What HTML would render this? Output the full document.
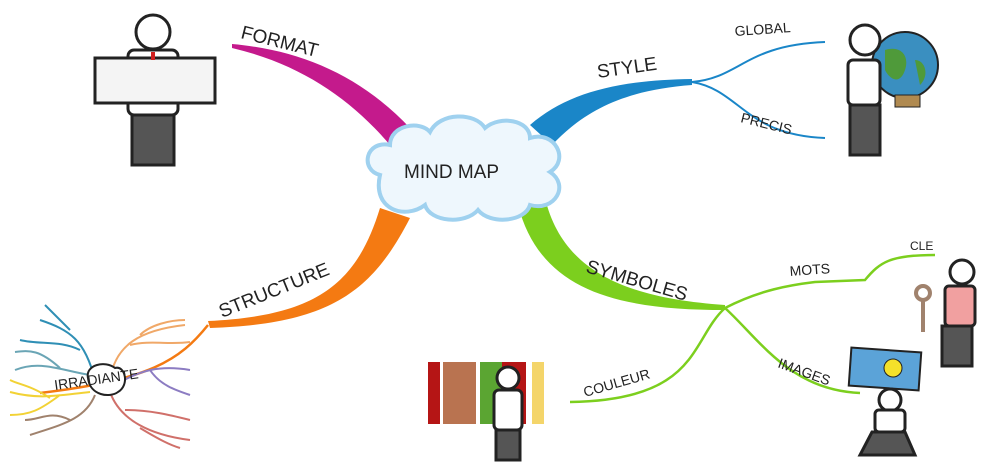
<!DOCTYPE html>
<html><head><meta charset="utf-8"><style>
html,body{margin:0;padding:0;background:#fff;width:986px;height:471px;overflow:hidden}
text{font-family:"Liberation Sans",sans-serif;fill:#222}
</style></head><body>
<svg width="986" height="471" viewBox="0 0 986 471" xmlns="http://www.w3.org/2000/svg">
<!-- FORMAT branch -->
<path d="M232,44 C300,50 360,75 410,128 L390,145 C350,98 300,64 232,48 Z" fill="#c41a8c"/>
<text x="240" y="38" font-size="19" transform="rotate(14 240 38)">FORMAT</text>
<!-- STYLE branch -->
<path d="M530,125 C568,92 620,80 692,79 L692,85 C625,90 585,110 552,145 Z" fill="#1a86c8"/>
<path d="M692,82 C740,78 745,45 825,42" stroke="#1a86c8" stroke-width="2" fill="none"/>
<path d="M692,82 C740,90 745,135 825,138" stroke="#1a86c8" stroke-width="2" fill="none"/>
<text x="598" y="78" font-size="19" transform="rotate(-8 598 78)">STYLE</text>
<text x="735" y="36" font-size="14" transform="rotate(-4 735 36)">GLOBAL</text>
<text x="740" y="122" font-size="14" transform="rotate(14 740 122)">PRECIS</text>
<!-- SYMBOLES branch -->
<path d="M518,205 L545,198 C562,268 620,298 725,305 L725,310 C615,310 540,290 518,205 Z" fill="#7ccf1e"/>
<path d="M725,308 C760,290 790,285 815,282 L865,280 C880,262 890,255 935,255" stroke="#7ccf1e" stroke-width="2.5" fill="none"/>
<path d="M725,308 C760,340 790,390 860,393" stroke="#7ccf1e" stroke-width="2.5" fill="none"/>
<path d="M725,308 C690,340 700,400 570,402" stroke="#7ccf1e" stroke-width="2.5" fill="none"/>
<text x="585" y="272" font-size="19" transform="rotate(16 585 272)">SYMBOLES</text>
<text x="790" y="276" font-size="14" transform="rotate(-4 790 276)">MOTS</text>
<text x="910" y="250" font-size="12">CLE</text>
<text x="777" y="367" font-size="14" transform="rotate(20 777 367)">IMAGES</text>
<text x="585" y="397" font-size="14" transform="rotate(-16 585 397)">COULEUR</text>
<!-- STRUCTURE branch -->
<path d="M380,208 L410,218 C372,292 330,324 210,328 L208,321 C318,316 357,283 380,208 Z" fill="#f47a12"/>
<path d="M208,325 C180,360 150,380 40,393" stroke="#f47a12" stroke-width="2.5" fill="none"/>
<text x="222" y="318" font-size="19" transform="rotate(-22 222 318)">STRUCTURE</text>
<!-- irradiante tree -->
<g fill="none" stroke-width="2">
<path d="M95,380 C85,340 70,330 40,320 M80,350 C60,340 40,345 20,340 M70,330 C60,320 50,310 45,305" stroke="#2f8fb5"/>
<path d="M90,375 C60,370 40,360 15,370 M60,368 C40,350 30,350 15,352" stroke="#6aa5b5"/>
<path d="M90,392 C60,395 40,400 10,392 M60,395 C40,410 30,415 10,415 M50,398 C30,385 20,385 10,380" stroke="#f2d235"/>
<path d="M95,395 C85,420 60,425 30,435 M70,420 C50,410 40,420 25,420" stroke="#a0826d"/>
<path d="M110,380 C115,345 140,330 185,325 M130,345 C150,340 170,345 190,342 M140,335 C150,325 170,320 185,320" stroke="#f0a868"/>
<path d="M115,385 C140,370 160,365 190,370 M150,370 C160,385 175,390 190,395" stroke="#8c7cc2"/>
<path d="M110,392 C120,420 150,435 190,440 M125,410 C150,410 170,415 190,420 M140,428 C160,440 170,445 180,448" stroke="#d0706a"/>
</g>
<path d="M88,378 C85,365 105,360 115,368 C125,365 130,385 118,392 C110,398 90,396 88,378 Z" fill="#fff" stroke="#222" stroke-width="2"/>
<text x="55" y="390" font-size="14" transform="rotate(-8 55 390)">IRRADIANTE</text>
<!-- cloud -->
<path d="M380,175 C360,170 365,140 390,145 C390,125 420,120 430,132 C440,112 475,112 485,128 C500,115 530,120 530,138 C555,130 570,160 550,172 C570,185 555,212 530,205 C525,222 490,225 478,210 C465,225 430,222 425,205 C405,220 372,210 380,175 Z" fill="#eef7fd" stroke="#9fd1ef" stroke-width="4"/>
<text x="404" y="178" font-size="19">MIND MAP</text>
<!-- FORMAT figure -->
<g stroke="#222" stroke-width="3" fill="#fff">
<circle cx="153" cy="32" r="17"/>
<rect x="128" y="50" width="50" height="65" rx="6"/>
<rect x="95" y="58" width="120" height="45" fill="#f4f4f4"/>
<rect x="132" y="115" width="42" height="50" fill="#555"/>
</g>
<line x1="153" y1="52" x2="153" y2="60" stroke="#d02020" stroke-width="4"/>
<!-- STYLE figure -->
<circle cx="905" cy="65" r="33" fill="#3a8fc0" stroke="#222" stroke-width="2"/>
<path d="M885,50 C900,45 910,55 905,70 C900,85 890,80 885,70 Z M915,60 C925,60 930,75 920,85 Z" fill="#4f9a3a"/>
<rect x="895" y="95" width="25" height="12" fill="#b08a50" stroke="#222"/>
<g stroke="#222" stroke-width="3" fill="#fff">
<circle cx="865" cy="40" r="15"/>
<rect x="848" y="60" width="32" height="45" rx="5"/>
<rect x="850" y="105" width="30" height="50" fill="#555"/>
</g>
<!-- CLE figure -->
<g stroke="#222" stroke-width="3" fill="#fff">
<circle cx="962" cy="272" r="12"/>
<rect x="945" y="286" width="30" height="40" rx="4" fill="#f1a0a0"/>
<rect x="942" y="326" width="30" height="40" fill="#555"/>
</g>
<circle cx="923" cy="293" r="7" fill="none" stroke="#a0826d" stroke-width="4"/>
<line x1="923" y1="300" x2="923" y2="332" stroke="#a0826d" stroke-width="4"/>
<!-- IMAGES figure -->
<rect x="850" y="350" width="70" height="38" fill="#5ba3d8" stroke="#222" stroke-width="2" transform="rotate(4 885 369)"/>
<circle cx="893" cy="368" r="9" fill="#f4e12a" stroke="#222"/>
<g stroke="#222" stroke-width="3" fill="#fff">
<circle cx="890" cy="400" r="11"/>
<rect x="875" y="410" width="30" height="22" rx="4"/>
<path d="M872,432 L905,432 L915,455 L860,455 Z" fill="#555"/>
</g>
<!-- COULEUR doors -->
<rect x="428" y="362" width="12" height="62" fill="#b51515"/>
<rect x="443" y="362" width="33" height="62" fill="#b97350"/>
<rect x="480" y="362" width="25" height="62" fill="#5ba532"/>
<rect x="502" y="362" width="24" height="62" fill="#b51515"/>
<rect x="532" y="362" width="12" height="62" fill="#f4d56a"/>
<g stroke="#222" stroke-width="3" fill="#fff">
<circle cx="508" cy="378" r="11"/>
<rect x="494" y="390" width="28" height="40" rx="5"/>
<rect x="496" y="430" width="24" height="30" fill="#555"/>
</g>
</svg>
</body></html>
